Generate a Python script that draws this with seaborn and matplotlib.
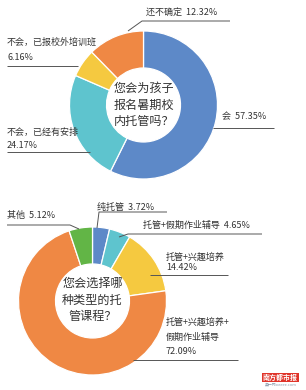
import matplotlib
matplotlib.use("Agg")
import matplotlib.pyplot as plt
import seaborn as sns

sns.set_theme(style="white")
plt.rcParams['font.family'] = ['Noto Sans CJK SC', 'DejaVu Sans']

# ---- data ----
q1_title = "您会为孩子\n报名暑期校\n内托管吗？"
q1_labels = ["会", "不会，已经有安排", "不会，已报校外培训班", "还不确定"]
q1_values = [57.35, 24.17, 6.16, 12.32]
q1_colors = ["#5D89C8", "#5EC4CE", "#F5C940", "#EF8844"]

q2_title = "您会选择哪\n种类型的托\n管课程？"
q2_labels = ["纯托管", "托管+假期作业辅导", "托管+兴趣培养", "托管+兴趣培养+假期作业辅导", "其他"]
q2_values = [3.72, 4.65, 14.42, 72.09, 5.12]
q2_colors = ["#5D89C8", "#5EC4CE", "#F5C940", "#EF8844", "#62B546"]

W, H = 306, 390
fig = plt.figure(figsize=(W / 100, H / 100), dpi=100)
ax = fig.add_axes([0, 0, 1, 1])

def Y(y):  # image y (down) -> axis y (up)
    return H - y

TXT = "#333333"
LN = "#555555"
FS = 6.5

R = 74
ax.pie(q1_values, colors=q1_colors, startangle=90, counterclock=False,
       center=(143.5, Y(105)), radius=R,
       wedgeprops=dict(width=37, edgecolor="white", linewidth=0.9))
ax.text(144, Y(105), q1_title, ha="center", va="center", fontsize=8.7,
        color=TXT, linespacing=1.35)

ax.pie(q2_values, colors=q2_colors, startangle=90, counterclock=False,
       center=(92.5, Y(301)), radius=R,
       wedgeprops=dict(width=37, edgecolor="white", linewidth=0.9))
ax.text(92.5, Y(300), q2_title, ha="center", va="center", fontsize=8.7,
        color=TXT, linespacing=1.35)

def fmt(v):
    return f"{v:.2f}%"

def line(pts):
    xs = [p[0] for p in pts]
    ys = [Y(p[1]) for p in pts]
    ax.plot(xs, ys, color=LN, lw=0.7, solid_capstyle="butt")

def txt(x, y, s, **kw):
    ax.text(x, Y(y), s, ha="left", va="center", fontsize=FS, color=TXT, **kw)

# ---- top donut labels ----
txt(222, 117, f"{q1_labels[0]}  {fmt(q1_values[0])}")
line([(213, 127.5), (274, 127.5)])

txt(7, 132, q1_labels[1])
txt(7, 145, fmt(q1_values[1]))
line([(7, 152), (90, 152)])

txt(7, 42.5, q1_labels[2])
txt(7, 57, fmt(q1_values[2]))
line([(7, 66), (78, 66)])

txt(146, 13.5, f"{q1_labels[3]}  {fmt(q1_values[3])}")
line([(128, 31), (142, 21), (230, 21)])

# ---- bottom donut labels ----
txt(97, 207, f"{q2_labels[0]}  {fmt(q2_values[0])}")
line([(97, 228), (99, 212), (167, 212)])

txt(143, 225, f"{q2_labels[1]}  {fmt(q2_values[1])}")
line([(119, 237), (128, 234), (262, 234)])

txt(166, 257, q2_labels[2])
txt(166, 267, fmt(q2_values[2]))
line([(150, 275), (228, 275)])

txt(166, 322, "托管+兴趣培养+")
txt(166, 337, "假期作业辅导")
txt(166, 352, fmt(q2_values[3]))
line([(133, 360), (238, 360)])

txt(7, 215, f"{q2_labels[4]}  {fmt(q2_values[4])}")
line([(7, 225), (70, 225), (79, 229)])

# ---- watermark ----
ax.text(280.5, Y(377.5), "南方都市报", ha="center", va="center", fontsize=5,
        color="white", fontweight="bold",
        bbox=dict(boxstyle="square,pad=0.15", fc="#E0342A", ec="none"))
ax.text(280.5, Y(385), "奥一网oeeee.com", ha="center", va="center",
        fontsize=2.8, color="#8899AA")

ax.set_xlim(0, W)
ax.set_ylim(0, H)
ax.set_aspect("equal", adjustable="box")
ax.axis("off")
fig.savefig("out.png", dpi=100)
